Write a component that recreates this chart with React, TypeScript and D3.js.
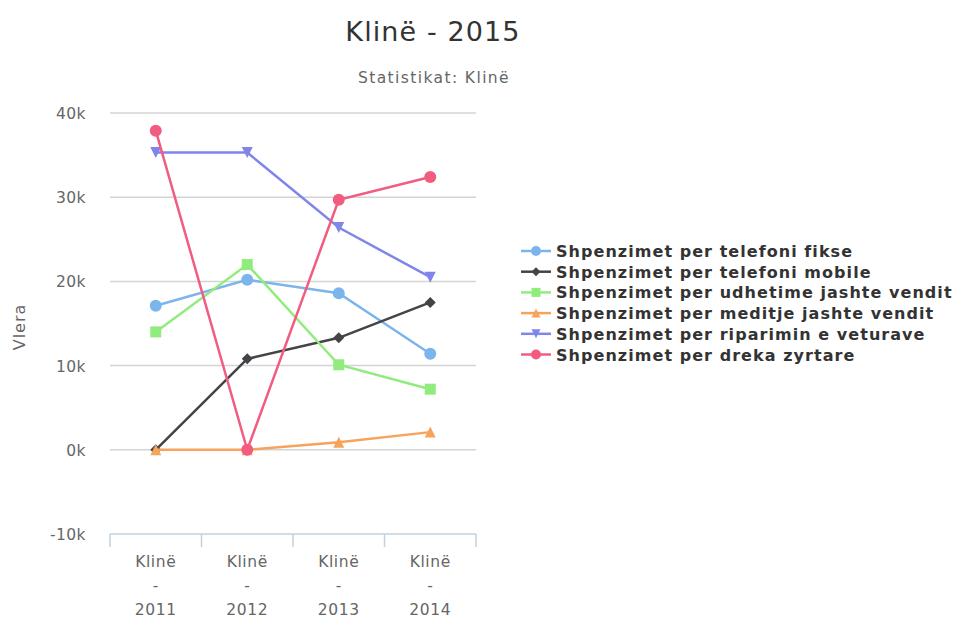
import React from "react";
import * as d3 from "d3";

const categories = ["Klinë - 2011", "Klinë - 2012", "Klinë - 2013", "Klinë - 2014"];
const yTicks = [-10000, 0, 10000, 20000, 30000, 40000];
const seriesNames = [
  "Shpenzimet per telefoni fikse",
  "Shpenzimet per telefoni mobile",
  "Shpenzimet per udhetime jashte vendit",
  "Shpenzimet per meditje jashte vendit",
  "Shpenzimet per riparimin e veturave",
  "Shpenzimet per dreka zyrtare",
];
const fikse = [17100, 20200, 18600, 11400];
const mobile = [0, 10800, 13300, 17500];
const udhetime = [14000, 22000, 10100, 7200];
const meditje = [0, 0, 900, 2100];
const riparimin = [35300, 35300, 26400, 20500];
const dreka = [37900, 0, 29700, 32400];
const seriesValues = [fikse, mobile, udhetime, meditje, riparimin, dreka];
const colors = ["#7cb5ec", "#434348", "#90ed7d", "#f7a35c", "#8085e9", "#f15c80"];
const symbols = ["circle", "diamond", "square", "triangle", "triangle-down", "circle"];

function Marker({ type, x, y, color, s }: { type: string; x: number; y: number; color: string; s: number }) {
  if (type === "circle") return <circle cx={x} cy={y} r={s} fill={color} />;
  if (type === "square") return <rect x={x - s} y={y - s} width={2 * s} height={2 * s} fill={color} />;
  if (type === "diamond")
    return <path d={`M${x},${y - s} L${x + s},${y} L${x},${y + s} L${x - s},${y} Z`} fill={color} />;
  if (type === "triangle")
    return <path d={`M${x},${y - s} L${x + s},${y + s} L${x - s},${y + s} Z`} fill={color} />;
  return <path d={`M${x - s},${y - s} L${x + s},${y - s} L${x},${y + s} Z`} fill={color} />;
}

export default function App() {
  const W = 955, H = 619;
  const font = "'DejaVu Sans', sans-serif";
  const x = d3.scaleBand<string>().domain(categories).range([110, 476]);
  const y = d3.scaleLinear().domain([-10000, 40000]).range([534, 113]);
  const line = d3
    .line<number>()
    .x((_, i) => (x(categories[i]) as number) + x.bandwidth() / 2)
    .y((d) => y(d));
  const tickXs = [...categories.map((c) => x(c) as number), 476];
  return (
    <svg width={W} height={H} style={{ position: "absolute", left: 0, top: 0, background: "#fff" }}>
      <text x={433} y={41} textAnchor="middle" fontFamily={font} fontSize={27} letterSpacing={1.1} fill="#333">
        Klinë - 2015
      </text>
      <text x={434} y={83} textAnchor="middle" fontFamily={font} fontSize={15.5} letterSpacing={1.4} fill="#666">
        Statistikat: Klinë
      </text>
      {yTicks.map((t) => (
        <g key={t}>
          {t !== -10000 && <line x1={110} x2={476} y1={y(t)} y2={y(t)} stroke="#d4d4d4" strokeWidth={1.5} />}
          <text x={86} y={y(t) + 6} textAnchor="end" fontFamily={font} fontSize={15.5} letterSpacing={0.4} fill="#666">
            {t / 1000 + "k"}
          </text>
        </g>
      ))}
      <line x1={110} x2={476} y1={534} y2={534} stroke="#c0d0e0" strokeWidth={1.5} />
      {tickXs.map((tx, i) => (
        <line key={i} x1={tx} x2={tx} y1={534} y2={547} stroke="#c0d0e0" strokeWidth={1.5} />
      ))}
      <text
        transform={`translate(25,${327}) rotate(-90)`}
        textAnchor="middle"
        fontFamily={font}
        fontSize={16}
        letterSpacing={1}
        fill="#666"
      >
        Vlera
      </text>
      {categories.map((c) => {
        const cx = (x(c) as number) + x.bandwidth() / 2;
        const parts = c.split(" ");
        return (
          <text key={c} textAnchor="middle" fontFamily={font} fontSize={15.5} letterSpacing={0.6} fill="#666">
            {parts.map((p, i) => (
              <tspan key={i} x={cx} y={567 + i * 24}>
                {p}
              </tspan>
            ))}
          </text>
        );
      })}
      {seriesValues.map((vals, si) => (
        <g key={si}>
          <path d={line(vals) || ""} fill="none" stroke={colors[si]} strokeWidth={2.5} />
          {vals.map((v, i) => (
            <Marker
              key={i}
              type={symbols[si]}
              x={(x(categories[i]) as number) + x.bandwidth() / 2}
              y={y(v)}
              color={colors[si]}
              s={symbols[si] === "circle" ? 6 : 5.5}
            />
          ))}
        </g>
      ))}
      {seriesNames.map((n, i) => {
        const ly = 251 + i * 20.7;
        return (
          <g key={n}>
            <line x1={521} x2={551} y1={ly} y2={ly} stroke={colors[i]} strokeWidth={2.5} />
            <Marker type={symbols[i]} x={536} y={ly} color={colors[i]} s={symbols[i] === "circle" ? 5 : 4.5} />
            <text x={556} y={ly + 6} fontFamily={font} fontSize={16} letterSpacing={1.05} fontWeight="bold" fill="#333">
              {n}
            </text>
          </g>
        );
      })}
    </svg>
  );
}
